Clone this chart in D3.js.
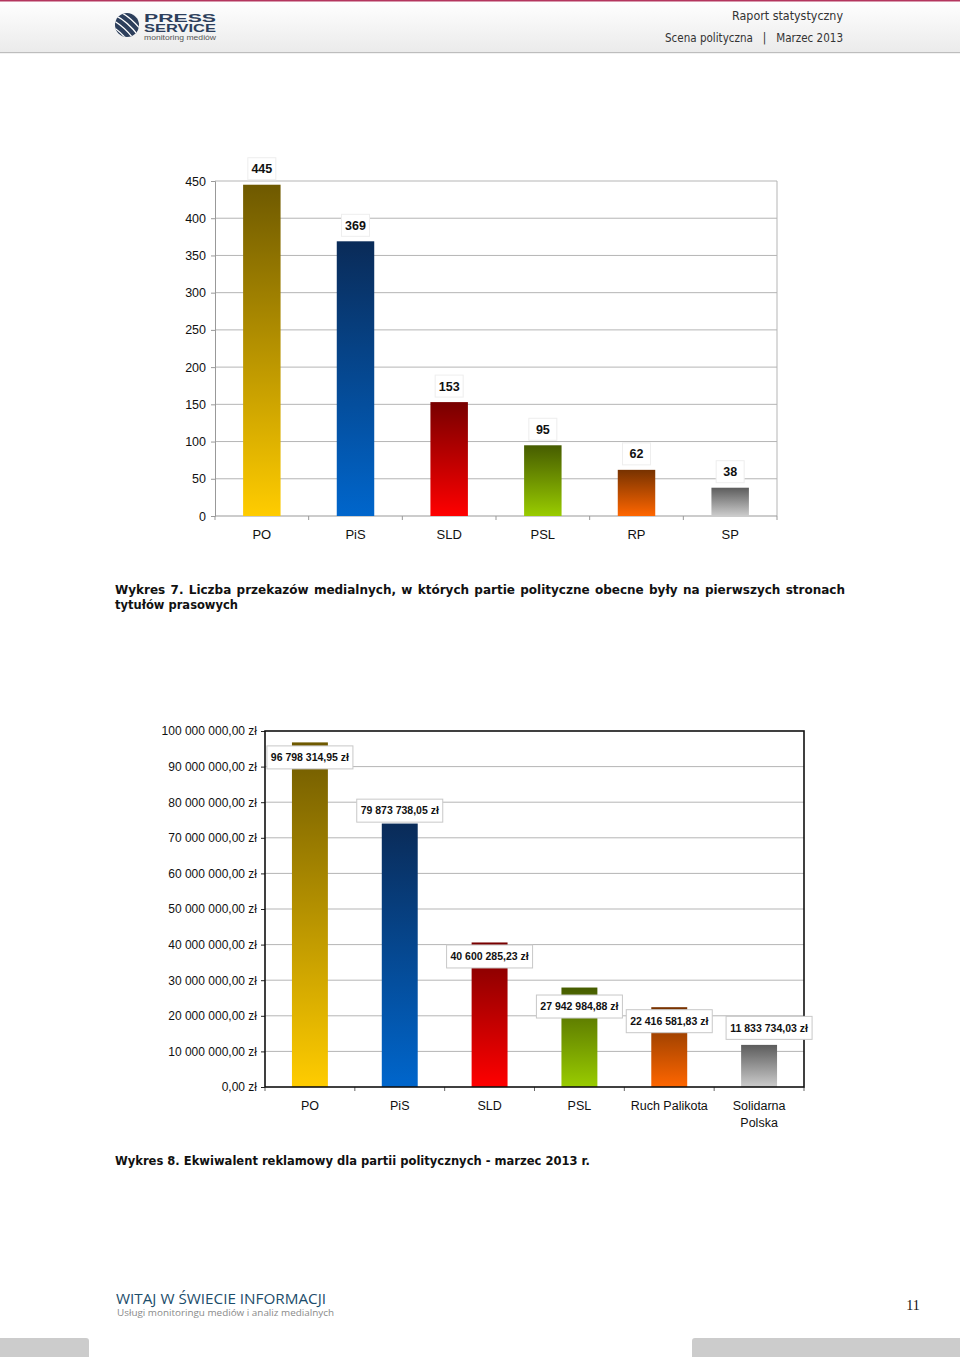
<!DOCTYPE html>
<html>
  <head>
    <meta charset="utf-8" />
    <style>
      body { margin: 0; background: #fff; }
      svg { display: block; }
    </style>
  </head>
  <body>

<svg id="page"></svg>

<script src="https://d3js.org/d3.v7.min.js"></script>
<script>
// page size
const WIDTH = 960
const HEIGHT = 1357

// chart 7 data: number of front page mentions
const parties7 = ['PO', 'PiS', 'SLD', 'PSL', 'RP', 'SP']
const mentions = [445, 369, 153, 95, 62, 38]
const ticks7 = [0, 50, 100, 150, 200, 250, 300, 350, 400, 450]

// chart 8 data: advertising equivalent (zł)
const parties8 = ['PO', 'PiS', 'SLD', 'PSL', 'Ruch Palikota', 'Solidarna Polska']
const adLabels = [96798314.95, 79873738.05, 40600285.23, 27942984.88, 22416581.83, 11833734.03]
// bar heights as drawn in the picture (PiS bar is shorter than its label)
const adBars = [96800000, 74000000, 40600000, 27940000, 22420000, 11830000]
const ticks8 = [0, 1e7, 2e7, 3e7, 4e7, 5e7, 6e7, 7e7, 8e7, 9e7, 1e8]

// colours of each party: top (dark) and bottom (light) of gradient
const partyColours = [
  ['#6e5900', '#ffcc00'],
  ['#0a2b58', '#0066cc'],
  ['#780000', '#ff0000'],
  ['#465c00', '#99cc00'],
  ['#773200', '#ff6600'],
  ['#5c5c5c', '#cccccc'],
]

const ARIAL = '"Liberation Sans", Arial, sans-serif'
const TAHOMA = '"DejaVu Sans", Verdana, sans-serif'

const svg = d3.select('#page')
  .attr('width', WIDTH)
  .attr('height', HEIGHT)

const defs = svg.append('defs')

// one vertical gradient per party
partyColours.forEach((c, i) => {
  const g = defs.append('linearGradient')
    .attr('id', 'grad' + i)
    .attr('x1', 0).attr('y1', 0).attr('x2', 0).attr('y2', 1)
  g.append('stop').attr('offset', '0%').attr('stop-color', c[0])
  g.append('stop').attr('offset', '100%').attr('stop-color', c[1])
})

// ---------- header ----------
const headGrad = defs.append('linearGradient')
  .attr('id', 'headGrad')
  .attr('x1', 0).attr('y1', 0).attr('x2', 0).attr('y2', 1)
headGrad.append('stop').attr('offset', '0%').attr('stop-color', '#ffffff')
headGrad.append('stop').attr('offset', '100%').attr('stop-color', '#ebebeb')

svg.append('rect')
  .attr('width', WIDTH).attr('height', 52)
  .attr('fill', 'url(#headGrad)')
svg.append('rect')
  .attr('width', WIDTH).attr('height', 1.5)
  .attr('fill', '#b4365e')
svg.append('rect')
  .attr('y', 52).attr('width', WIDTH).attr('height', 1.2)
  .attr('fill', '#bdbdbd')

// logo
const logo = svg.append('g')
defs.append('clipPath').attr('id', 'logoClip')
  .append('circle').attr('cx', 127).attr('cy', 25).attr('r', 12)
logo.append('circle')
  .attr('cx', 127).attr('cy', 25).attr('r', 12)
  .attr('fill', '#2d3f5c')
const stripes = logo.append('g').attr('clip-path', 'url(#logoClip)')
d3.range(-3, 4).forEach(k => {
  stripes.append('path')
    .attr('d', `M${112 + k * 4},${14 - k * 4} Q${127 + k * 4},${20 - k * 4} ${140 + k * 4},${38 - k * 4}`)
    .attr('fill', 'none')
    .attr('stroke', '#fff')
    .attr('stroke-width', 1.3)
})
logo.append('text')
  .attr('x', 144).attr('y', 22)
  .attr('textLength', 72).attr('lengthAdjust', 'spacingAndGlyphs')
  .style('font', `bold 11px ${ARIAL}`)
  .attr('fill', '#2d3f5c')
  .text('PRESS')
logo.append('text')
  .attr('x', 144).attr('y', 32)
  .attr('textLength', 72).attr('lengthAdjust', 'spacingAndGlyphs')
  .style('font', `bold 10px ${ARIAL}`)
  .attr('fill', '#2d3f5c')
  .text('SERVICE')
logo.append('text')
  .attr('x', 144).attr('y', 39.5)
  .attr('textLength', 72).attr('lengthAdjust', 'spacingAndGlyphs')
  .style('font', `7px ${ARIAL}`)
  .attr('fill', '#555')
  .text('monitoring mediów')

svg.append('text')
  .attr('x', 843).attr('y', 20)
  .attr('text-anchor', 'end')
  .attr('textLength', 111).attr('lengthAdjust', 'spacingAndGlyphs')
  .style('font', `12.5px ${TAHOMA}`)
  .attr('fill', '#333')
  .text('Raport statystyczny')
svg.append('text')
  .attr('x', 843).attr('y', 42)
  .attr('text-anchor', 'end')
  .attr('textLength', 178).attr('lengthAdjust', 'spacingAndGlyphs')
  .style('font', `11.5px ${TAHOMA}`)
  .attr('fill', '#333')
  .attr('xml:space', 'preserve')
  .text('Scena polityczna   |   Marzec 2013')

// ---------- chart 7 ----------
const x7 = d3.scaleBand()
  .domain(parties7)
  .range([215, 777])
  .paddingInner(0.6)
  .paddingOuter(0.3)

const y7 = d3.scaleLinear()
  .domain([0, 450])
  .range([516, 181])

const c7 = svg.append('g')

// grid lines
c7.selectAll('line.grid')
  .data(ticks7.slice(1))
  .enter()
    .append('line')
    .attr('x1', 215).attr('x2', 777)
    .attr('y1', d => y7(d)).attr('y2', d => y7(d))
    .attr('stroke', '#b5b5b5')
// right border
c7.append('line')
  .attr('x1', 777).attr('x2', 777)
  .attr('y1', y7(450)).attr('y2', y7(0))
  .attr('stroke', '#b5b5b5')

// y axis
const axis7 = c7.append('g')
  .attr('transform', 'translate(215,0)')
  .call(d3.axisLeft(y7).tickValues(ticks7).tickSize(4).tickPadding(5))
axis7.selectAll('path, line').attr('stroke', '#999')
axis7.selectAll('text')
  .style('font', `12.5px ${ARIAL}`)
  .attr('fill', '#111')

// x axis
const step7 = x7.step()
c7.append('line')
  .attr('x1', 215).attr('x2', 777)
  .attr('y1', y7(0)).attr('y2', y7(0))
  .attr('stroke', '#999')
c7.selectAll('line.xtick')
  .data(d3.range(parties7.length + 1))
  .enter()
    .append('line')
    .attr('x1', i => 215 + i * step7).attr('x2', i => 215 + i * step7)
    .attr('y1', y7(0)).attr('y2', y7(0) + 4)
    .attr('stroke', '#999')
c7.selectAll('text.cat')
  .data(parties7)
  .enter()
    .append('text')
    .attr('x', d => x7(d) + x7.bandwidth() / 2)
    .attr('y', 539)
    .attr('text-anchor', 'middle')
    .style('font', `13px ${ARIAL}`)
    .attr('fill', '#111')
    .text(d => d)

// bars
c7.selectAll('rect.bar')
  .data(mentions)
  .enter()
    .append('rect')
    .attr('x', (d, i) => x7(parties7[i]))
    .attr('width', x7.bandwidth())
    .attr('y', d => y7(d))
    .attr('height', d => y7(0) - y7(d))
    .attr('fill', (d, i) => `url(#grad${i})`)

// value labels
const lab7 = c7.selectAll('g.lab')
  .data(mentions)
  .enter()
    .append('g')
    .attr('transform', (d, i) => `translate(${x7(parties7[i]) + x7.bandwidth() / 2},${y7(d) - 16})`)
lab7.append('rect')
  .attr('x', -14).attr('y', -11)
  .attr('width', 28).attr('height', 22)
  .attr('fill', '#fff')
  .attr('stroke', '#eee')
lab7.append('text')
  .attr('text-anchor', 'middle')
  .attr('dy', '0.36em')
  .style('font', `bold 12.5px ${ARIAL}`)
  .attr('fill', '#111')
  .text(d => d)

// ---------- captions ----------
function justifiedLine(text, x0, x1, y) {
  const words = text.split(' ')
  const g = svg.append('g')
  const nodes = words.map(w => g.append('text')
    .attr('y', y)
    .style('font', `bold 12px ${TAHOMA}`)
    .attr('fill', '#111')
    .text(w))
  const widths = nodes.map(n => n.node().getComputedTextLength())
  const gap = (x1 - x0 - d3.sum(widths)) / (words.length - 1)
  let x = x0
  nodes.forEach((n, i) => {
    n.attr('x', x)
    x += widths[i] + gap
  })
}

justifiedLine('Wykres 7. Liczba przekazów medialnych, w których partie polityczne obecne były na pierwszych stronach', 115, 845, 594)
svg.append('text')
  .attr('x', 115).attr('y', 609)
  .attr('textLength', 123).attr('lengthAdjust', 'spacingAndGlyphs')
  .style('font', `bold 12px ${TAHOMA}`)
  .attr('fill', '#111')
  .text('tytułów prasowych')

svg.append('text')
  .attr('x', 115).attr('y', 1165)
  .attr('textLength', 475).attr('lengthAdjust', 'spacingAndGlyphs')
  .style('font', `bold 12px ${TAHOMA}`)
  .attr('fill', '#111')
  .text('Wykres 8. Ekwiwalent reklamowy dla partii politycznych - marzec 2013 r.')

// ---------- chart 8 ----------
const pl = d3.formatLocale({
  decimal: ',',
  thousands: ' ',
  grouping: [3],
  currency: ['', ' zł'],
})
const zl = pl.format('$,.2f')

const x8 = d3.scaleBand()
  .domain(parties8)
  .range([265, 804])
  .paddingInner(0.6)
  .paddingOuter(0.3)

const y8 = d3.scaleLinear()
  .domain([0, 1e8])
  .range([1087, 731])

const c8 = svg.append('g')

// grid lines
c8.selectAll('line.grid')
  .data(ticks8.slice(1, -1))
  .enter()
    .append('line')
    .attr('x1', 265).attr('x2', 804)
    .attr('y1', d => y8(d)).attr('y2', d => y8(d))
    .attr('stroke', '#b5b5b5')

// y axis
const axis8 = c8.append('g')
  .attr('transform', 'translate(265,0)')
  .call(d3.axisLeft(y8).tickValues(ticks8).tickSize(4).tickPadding(4).tickFormat(zl))
axis8.select('.domain').remove()
axis8.selectAll('line').attr('stroke', '#222')
axis8.selectAll('text')
  .style('font', `12px ${ARIAL}`)
  .attr('fill', '#111')

// x ticks
const step8 = x8.step()
c8.selectAll('line.xtick')
  .data(d3.range(parties8.length + 1))
  .enter()
    .append('line')
    .attr('x1', i => 265 + i * step8).attr('x2', i => 265 + i * step8)
    .attr('y1', y8(0)).attr('y2', y8(0) + 4)
    .attr('stroke', '#666')

// category labels, wrapped when wider than the band
c8.selectAll('text.cat')
  .data(parties8)
  .enter()
    .append('text')
    .attr('x', d => x8(d) + x8.bandwidth() / 2)
    .attr('y', 1110)
    .attr('text-anchor', 'middle')
    .style('font', `12.5px ${ARIAL}`)
    .attr('fill', '#111')
    .each(function (d) {
      const t = d3.select(this).text(d)
      if (this.getComputedTextLength() > step8) {
        t.text(null)
        d.split(' ').forEach((w, k) => {
          t.append('tspan')
            .attr('x', x8(d) + x8.bandwidth() / 2)
            .attr('dy', k === 0 ? 0 : 17)
            .text(w)
        })
      }
    })

// bars
c8.selectAll('rect.bar')
  .data(adBars)
  .enter()
    .append('rect')
    .attr('x', (d, i) => x8(parties8[i]))
    .attr('width', x8.bandwidth())
    .attr('y', d => y8(d))
    .attr('height', d => y8(0) - y8(d))
    .attr('fill', (d, i) => `url(#grad${i})`)

// plot frame
c8.append('rect')
  .attr('x', 265).attr('y', 731)
  .attr('width', 804 - 265).attr('height', 1087 - 731)
  .attr('fill', 'none')
  .attr('stroke', '#111')
  .attr('stroke-width', 1.6)

// value labels, placed by hand like in the original
const labelDy = [15, 8, 14, 19, 14, -17]
const labelDx = [0, 0, 0, 0, 0, 10]
const lab8 = c8.selectAll('g.lab')
  .data(adLabels)
  .enter()
    .append('g')
    .attr('transform', (d, i) => `translate(${x8(parties8[i]) + x8.bandwidth() / 2 + labelDx[i]},${y8(d) + labelDy[i]})`)
lab8.append('rect')
  .attr('x', -43).attr('y', -11.5)
  .attr('width', 86).attr('height', 23)
  .attr('fill', '#fff')
  .attr('stroke', '#c8c8c8')
lab8.append('text')
  .attr('text-anchor', 'middle')
  .attr('dy', '0.36em')
  .style('font', `bold 10.5px ${ARIAL}`)
  .attr('fill', '#111')
  .text(d => zl(d))

// ---------- footer ----------
svg.append('text')
  .attr('x', 116).attr('y', 1304)
  .attr('textLength', 210).attr('lengthAdjust', 'spacingAndGlyphs')
  .style('font', `14px "Open Sans", sans-serif`)
  .attr('fill', '#1c4d6b')
  .text('WITAJ W ŚWIECIE INFORMACJI')
svg.append('text')
  .attr('x', 117).attr('y', 1316)
  .attr('textLength', 217).attr('lengthAdjust', 'spacingAndGlyphs')
  .style('font', `9.5px "Open Sans", sans-serif`)
  .attr('fill', '#8a8a8a')
  .text('Usługi monitoringu mediów i analiz medialnych')
svg.append('text')
  .attr('x', 913).attr('y', 1310)
  .attr('text-anchor', 'middle')
  .style('font', `14px "Liberation Serif", serif`)
  .attr('fill', '#111')
  .text('11')

// grey tabs at the bottom
svg.append('path')
  .attr('d', 'M0,1338 H86 Q89,1338 89,1341 V1357 H0 Z')
  .attr('fill', '#cccccc')
svg.append('path')
  .attr('d', 'M695,1338 H960 V1357 H692 V1341 Q692,1338 695,1338 Z')
  .attr('fill', '#cccccc')
</script>
  </body>
</html>
